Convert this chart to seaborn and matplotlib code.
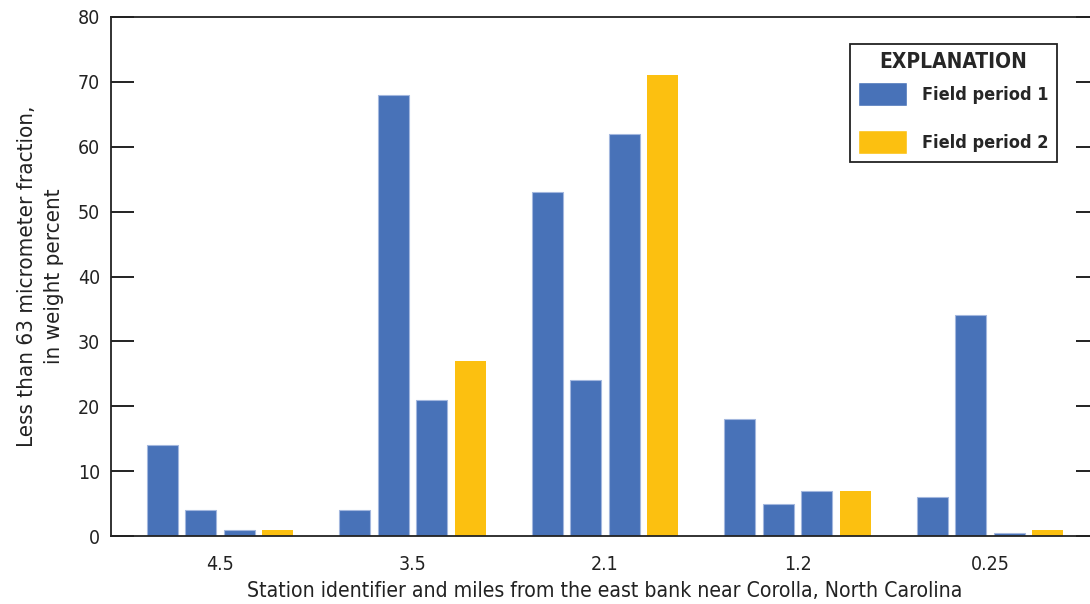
import pandas as pd
import matplotlib
matplotlib.use("Agg")
import matplotlib.pyplot as plt
import matplotlib.colors as mcolors
import seaborn as sns
from matplotlib.patches import Patch

# values (weight percent finer than 63 micrometers)
stations = ["4.5", "3.5", "2.1", "1.2", "0.25"]
period1_a = [14, 4, 53, 18, 6]
period1_b = [4, 68, 24, 5, 34]
period1_c = [1, 21, 62, 7, 0.5]
period2 = [1, 27, 71, 7, 1]

series_names = ["Field period 1 (a)", "Field period 1 (b)", "Field period 1 (c)", "Field period 2"]
blue = "#4872b8"
yellow = "#fcc010"

rows = []
for name, vals in zip(series_names, [period1_a, period1_b, period1_c, period2]):
    for st, v in zip(stations, vals):
        rows.append({"station": st, "series": name, "value": v})
df = pd.DataFrame(rows)

sns.set_style("white")
plt.rcParams["font.family"] = ["DejaVu Sans"]
plt.rcParams["font.stretch"] = "condensed"

fig = plt.figure(figsize=(10.9, 6.04), dpi=100)
ax = fig.add_axes([111 / 1090, 68 / 604, 988 / 1090, 519 / 604])

sns.barplot(data=df, x="station", y="value", hue="series", order=stations,
            hue_order=series_names, palette=[blue, blue, blue, yellow], saturation=1,
            width=0.8, gap=0.19, linewidth=0, legend=False, ax=ax)

# blue bars in the original have a faint light outline
for p in ax.patches:
    if mcolors.to_hex(p.get_facecolor()) == blue:
        p.set_edgecolor("#a3b7de")
        p.set_linewidth(0.8)

ax.set_xlim(-0.566, 4.566)
ax.set_ylim(0, 80)
ax.set_yticks(range(0, 81, 10))
ax.tick_params(axis="y", direction="in", length=16.5, width=1.4, labelsize=14,
               left=True, right=True, labelleft=True, labelright=False, pad=8,
               colors="#222222")
ax.tick_params(axis="x", length=0, labelsize=14, pad=14, colors="#222222")
for sp in ax.spines.values():
    sp.set_visible(True)
    sp.set_linewidth(1.3)
    sp.set_color("#222222")

ax.set_xlabel("Station identifier and miles from the east bank near Corolla, North Carolina",
              fontsize=15.2, color="#222222", labelpad=5)
ax.set_ylabel("Less than 63 micrometer fraction,\nin weight percent",
              fontsize=16, color="#222222", labelpad=10, linespacing=1.4)

handles = [Patch(facecolor=blue, label="Field period 1"),
           Patch(facecolor=yellow, label="Field period 2")]
leg = ax.legend(handles=handles, title="EXPLANATION", loc="upper right",
                bbox_to_anchor=(1057 / 1090, 1 - 44 / 604), bbox_transform=fig.transFigure,
                frameon=True, fancybox=False, edgecolor="#222222", framealpha=1,
                prop={"size": 13, "weight": "bold"}, handlelength=2.7, handleheight=1.67,
                handletextpad=0.85, labelspacing=1.35, borderpad=0.45, borderaxespad=0)
leg.get_title().set_fontsize(15)
leg.get_title().set_fontweight("bold")
leg.get_frame().set_linewidth(1.3)
# tighter gap between the title and the first entry
leg._legend_box.sep = 7

fig.savefig("out.png", dpi=100)
